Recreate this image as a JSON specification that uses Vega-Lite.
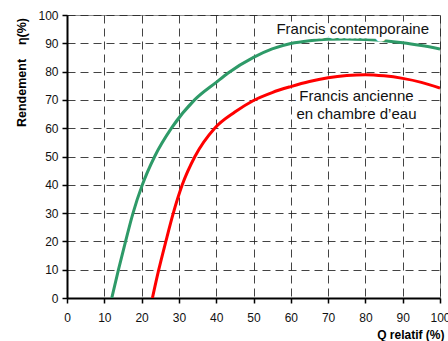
{
  "$schema": "https://vega.github.io/schema/vega-lite/v6.json",
  "width": 373,
  "height": 283,
  "autosize": {"type": "none"},
  "padding": {"left": 67, "top": 15, "right": 8, "bottom": 43},
  "background": "white",
  "config": {
    "view": {"stroke": "#8a8a8a", "strokeWidth": 1},
    "font": "Liberation Sans",
    "axis": {
      "labelFont": "Liberation Sans",
      "labelFontSize": 12,
      "labelColor": "#111",
      "titleFont": "Liberation Sans",
      "titleColor": "#000",
      "domainColor": "#000",
      "domainWidth": 2,
      "tickColor": "#000",
      "tickWidth": 1.5,
      "tickSize": 5,
      "gridColor": "#222",
      "gridDash": [8, 5],
      "gridWidth": 1,
      "gridOpacity": 0.85,
      "labelOverlap": false
    }
  },
  "datasets": {
    "curves": [
      {"s": "contemporaine", "q": 12, "r": 0},
      {"s": "contemporaine", "q": 13.8, "r": 10},
      {"s": "contemporaine", "q": 15.7, "r": 20},
      {"s": "contemporaine", "q": 17.7, "r": 30},
      {"s": "contemporaine", "q": 20.2, "r": 40},
      {"s": "contemporaine", "q": 23.5, "r": 50},
      {"s": "contemporaine", "q": 28, "r": 60},
      {"s": "contemporaine", "q": 34.2, "r": 70},
      {"s": "contemporaine", "q": 40, "r": 76.2},
      {"s": "contemporaine", "q": 43.2, "r": 79.5},
      {"s": "contemporaine", "q": 50, "r": 85},
      {"s": "contemporaine", "q": 55, "r": 88},
      {"s": "contemporaine", "q": 60, "r": 89.9},
      {"s": "contemporaine", "q": 65, "r": 90.9},
      {"s": "contemporaine", "q": 70, "r": 91.4},
      {"s": "contemporaine", "q": 75, "r": 91.5},
      {"s": "contemporaine", "q": 80, "r": 91.3},
      {"s": "contemporaine", "q": 85, "r": 90.9},
      {"s": "contemporaine", "q": 90, "r": 90.2},
      {"s": "contemporaine", "q": 95, "r": 89.2},
      {"s": "contemporaine", "q": 100, "r": 88},
      {"s": "ancienne", "q": 22.9, "r": 0},
      {"s": "ancienne", "q": 24.6, "r": 10},
      {"s": "ancienne", "q": 26.5, "r": 20},
      {"s": "ancienne", "q": 28.5, "r": 30},
      {"s": "ancienne", "q": 30.9, "r": 40},
      {"s": "ancienne", "q": 34.3, "r": 50},
      {"s": "ancienne", "q": 39.6, "r": 60},
      {"s": "ancienne", "q": 45, "r": 65.7},
      {"s": "ancienne", "q": 50, "r": 69.8},
      {"s": "ancienne", "q": 55, "r": 72.6},
      {"s": "ancienne", "q": 60, "r": 74.7},
      {"s": "ancienne", "q": 65, "r": 76.5},
      {"s": "ancienne", "q": 70, "r": 77.8},
      {"s": "ancienne", "q": 75, "r": 78.6},
      {"s": "ancienne", "q": 80, "r": 78.9},
      {"s": "ancienne", "q": 85, "r": 78.5},
      {"s": "ancienne", "q": 90, "r": 77.6},
      {"s": "ancienne", "q": 95, "r": 76.2},
      {"s": "ancienne", "q": 100, "r": 74.2}
    ],
    "labels": [
      {"t": "Francis contemporaine", "q": 76.6, "r": 93.3},
      {"t": "Francis ancienne", "q": 77.6, "r": 69.5},
      {"t": "en chambre d’eau", "q": 77.6, "r": 63.4}
    ]
  },
  "encoding": {
    "x": {
      "field": "q", "type": "quantitative",
      "scale": {"domain": [0, 100], "nice": false, "zero": false},
      "axis": {
        "values": [0, 10, 20, 30, 40, 50, 60, 70, 80, 90, 100],
        "title": "Q relatif (%)",
        "titleFontSize": 12,
        "titleFontWeight": "bold",
        "titleAnchor": "end",
        "titleAlign": "right",
        "titleX": 377,
        "titleY": 31,
        "titleBaseline": "top",
        "labelPadding": 9,
        "labelFlush": false
      }
    },
    "y": {
      "field": "r", "type": "quantitative",
      "scale": {"domain": [0, 100], "nice": false},
      "axis": {
        "values": [0, 10, 20, 30, 40, 50, 60, 70, 80, 90, 100],
        "title": "Rendement\u00a0\u00a0\u00a0\u00a0η(%)",
        "titleFontSize": 12.5,
        "titleFontWeight": "bold",
        "titleAngle": -90,
        "titleAlign": "center",
        "titleBaseline": "middle",
        "titleX": -46,
        "titleY": 57,
        "labelPadding": 4
      }
    }
  },
  "layer": [
    {
      "data": {"name": "curves"},
      "mark": {"type": "line", "interpolate": "monotone", "strokeWidth": 3, "clip": true},
      "encoding": {
        "color": {
          "field": "s", "type": "nominal",
          "scale": {"domain": ["contemporaine", "ancienne"], "range": ["#2e9a68", "#ff0000"]},
          "legend": null
        }
      }
    },
    {
      "data": {"name": "labels"},
      "mark": {"type": "text", "fontSize": 15, "font": "Liberation Sans", "baseline": "alphabetic", "align": "center", "stroke": "white", "strokeWidth": 9, "strokeJoin": "round", "fill": "white"},
      "encoding": {
        "text": {"field": "t"}
      }
    },
    {
      "data": {"name": "labels"},
      "mark": {"type": "text", "fontSize": 15, "font": "Liberation Sans", "baseline": "alphabetic", "align": "center", "fill": "#111"},
      "encoding": {
        "text": {"field": "t"}
      }
    }
  ]
}
